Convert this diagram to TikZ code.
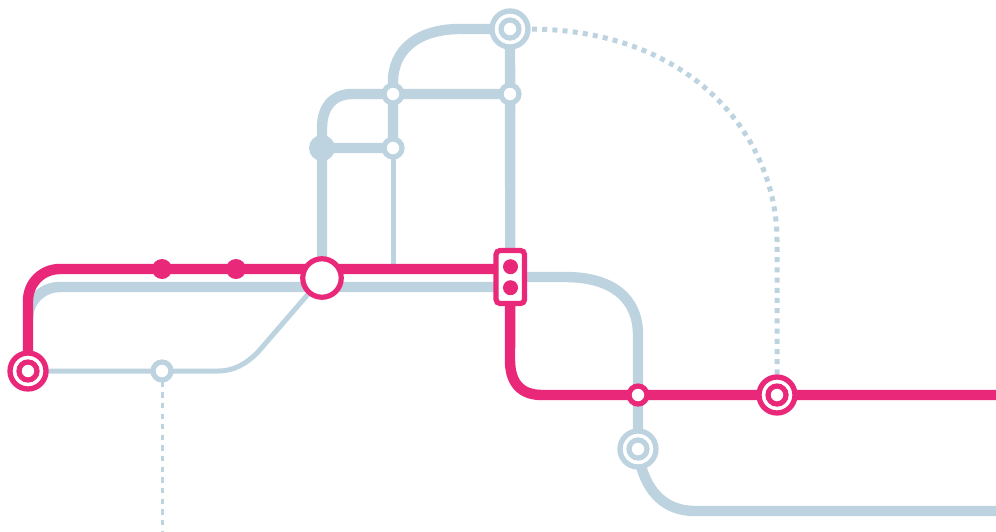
\documentclass[tikz,border=0pt]{standalone}
\usepackage{xcolor}
\usetikzlibrary{backgrounds}
\definecolor{LinePink}{HTML}{E9287A}
\definecolor{LineBlue}{HTML}{BDD3E0}
\tikzset{
  stopring/.style={circle,draw=#1,fill=white,line width=5.2pt,inner sep=0pt,outer sep=0pt,minimum size=18pt},
  outerring/.style={circle,draw=#1,fill=white,line width=5.3pt,inner sep=0pt,outer sep=0pt,minimum size=36pt},
  hubring/.style={circle,draw=LinePink,fill=white,line width=5.2pt,inner sep=0pt,outer sep=0pt,minimum size=38.5pt},
  stopdot/.style={circle,fill=#1,inner sep=0pt,outer sep=0pt},
  signalbox/.style={rectangle,rounded corners=4pt,draw=LinePink,fill=white,line width=5.2pt,inner sep=0pt,outer sep=0pt,minimum width=28.5pt,minimum height=53pt},
  thick line/.style={line width=10.4pt},
  thin line/.style={line width=5pt}
}
\begin{document}
\begin{tikzpicture}[x=1pt,y=-1pt]
  \useasboundingbox (0,0) rectangle (996,531);
  % stations
  \node[outerring=LinePink] (westend) at (28,371) {};
  \node[stopring=LinePink] (westin) at (28,371) {};
  \node[stopring=LineBlue] (branch) at (162,371) {};
  \node[stopdot=LinePink,minimum size=20pt] (dotA) at (162,269) {};
  \node[stopdot=LinePink,minimum size=20pt] (dotB) at (236,269) {};
  \node[hubring] (hub) at (322,278) {};
  \node[outerring=LineBlue] (north) at (510,29) {};
  \node[stopring=LineBlue] (northin) at (510,29) {};
  \node[stopring=LineBlue] (upperA) at (393,94) {};
  \node[stopring=LineBlue] (upperB) at (510,94) {};
  \node[stopring=LineBlue] (lower) at (393,148) {};
  \node[stopdot=LineBlue,minimum size=26pt] (junction) at (322,148) {};
  \node[signalbox] (signal) at (510.3,277) {};
  \node[stopdot=LinePink,minimum size=15pt] (sigtop) at (510.5,266.7) {};
  \node[stopdot=LinePink,minimum size=15pt] (sigbot) at (510.5,287.7) {};
  \node[stopring=LinePink] (cross) at (638,395) {};
  \node[outerring=LinePink] (east) at (777,395) {};
  \node[stopring=LinePink] (eastin) at (777,395) {};
  \node[outerring=LineBlue] (south) at (638,449) {};
  \node[stopring=LineBlue] (southin) at (638,449) {};
  \coordinate (pinkend) at (996,395);
  \coordinate (blueend) at (996,511);
  \coordinate (branchend) at (162,531);
  \begin{scope}[on background layer]
    % blue lines
    \draw[LineBlue,thick line] (28,319) .. controls (28,301) and (42,287) .. (60,287) -- (signal.center |- 60,287);
    \draw[LineBlue,thin line] (westend.center) -- (218,371) .. controls (234,371) and (246,364) .. (258,352) -- (hub.center);
    \draw[LineBlue,thick line] (hub.center) -- (322,128) .. controls (322,106) and (334,94) .. (352,94) -- (upperB.center);
    \draw[LineBlue,thick line] (junction.center) -- (lower.center) -- (upperA.center) -- (393,82) .. controls (393,48) and (420,29) .. (460,29) -- (north.center);
    \draw[LineBlue,thin line] (lower.center) -- (393,269);
    \draw[LineBlue,thick line] (north.center) -- (signal.center);
    \draw[LineBlue,thick line] (signal.center) -- (565,277) .. controls (612,277) and (638,298) .. (638,335) -- (south.center);
    \draw[LineBlue,thick line] (south.center) -- (640,462) .. controls (647,492) and (665,511) .. (695,511) -- (blueend);
    \draw[LineBlue,line width=5pt,dash pattern=on 5pt off 5.2pt,dash phase=6.2pt] (north.east) .. controls (695,29) and (777,140) .. (777,240) -- (east.north);
    \draw[LineBlue,line width=3pt,dash pattern=on 5.3pt off 5.35pt,dash phase=9.1pt] (branch.south) -- (branchend);
    % pink lines
    \draw[LinePink,thick line] (westend.center) -- (28,301) .. controls (28,283) and (42,269) .. (60,269) -- (signal.center |- 60,269);
    \draw[LinePink,thick line] (signal.center) -- (510,360) .. controls (510,382) and (520,395) .. (542,395) -- (pinkend);
  \end{scope}
\end{tikzpicture}
\end{document}
